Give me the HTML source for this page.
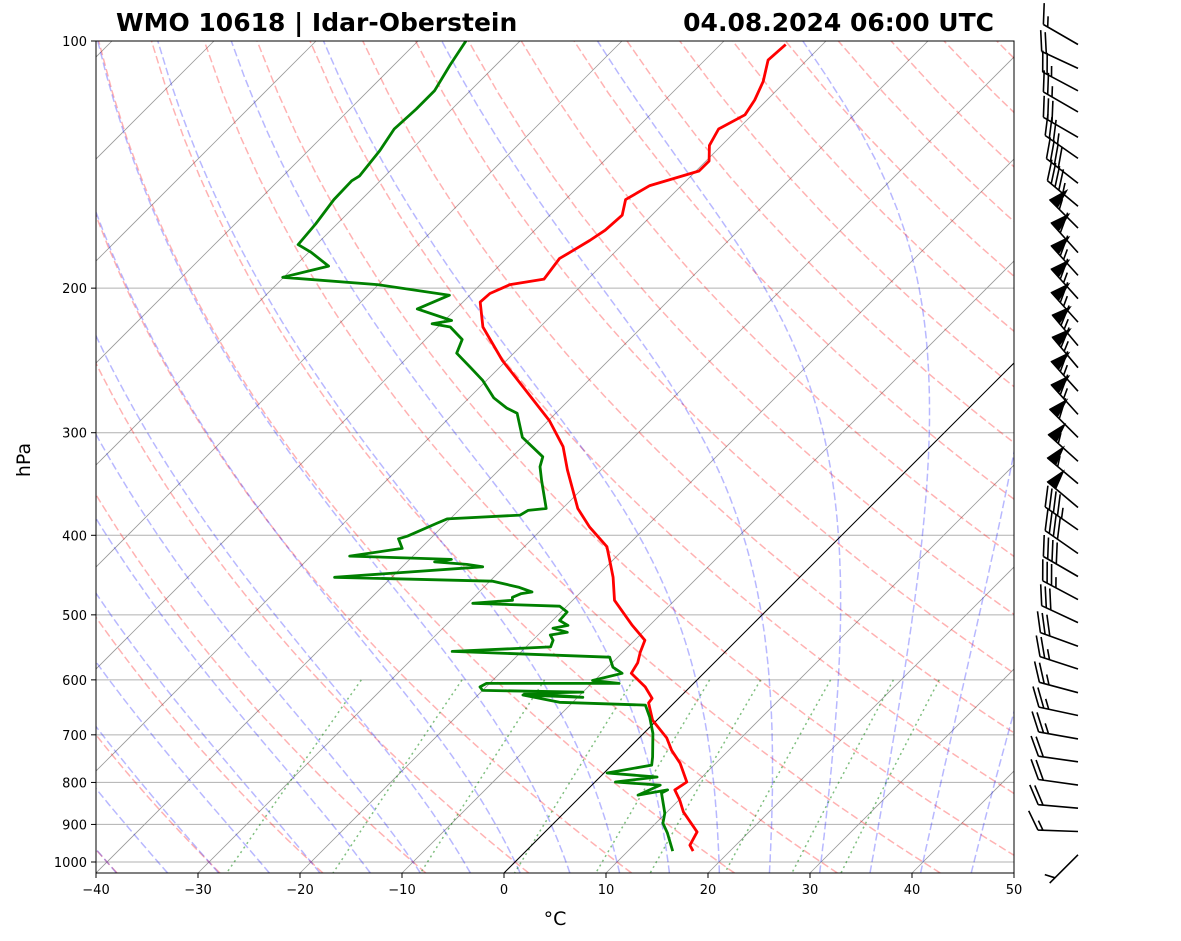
<!DOCTYPE html>
<html><head><meta charset="utf-8">
<style>
html,body{margin:0;padding:0;background:#fff;}
svg{display:block;font-family:"DejaVu Sans","Liberation Sans",sans-serif;}
</style></head>
<body>
<svg id="chart" width="1181" height="941" viewBox="0 0 1181 941" xmlns="http://www.w3.org/2000/svg">
<defs><clipPath id="plotclip"><rect x="96" y="41" width="918" height="832"/></clipPath></defs>
<rect x="0" y="0" width="1181" height="941" fill="#fff"/>
<g id="bg" clip-path="url(#plotclip)"></g>
<g id="profiles" clip-path="url(#plotclip)"></g>
<rect x="96" y="41" width="918" height="832" fill="none" stroke="#000" stroke-width="1"/>
<g id="axes"></g>
<g id="barbs"></g>
<text x="116" y="31" font-size="25" font-weight="bold">WMO 10618 | Idar-Oberstein</text>
<text x="994" y="31" font-size="25" font-weight="bold" text-anchor="end">04.08.2024 06:00 UTC</text>
<text x="555" y="925" font-size="19" text-anchor="middle">°C</text>
<text x="30" y="460" font-size="19" text-anchor="middle" transform="rotate(-90 30 460)">hPa</text>
</svg>
<script>
const tempP=[970,954,919,869,841,817,799,758,731,706,672,640,632,612,589,572,555,537,515,480,450,429,413,391,371,333,312,290,245,223,208,203,198,195,184,181,175,170,163,156,150,144,140,134,128,123,118,112,105.5,101];
const tempT=[16.4,15.5,14.9,11.6,10.1,8.6,9.0,6.5,4.4,2.7,-0.4,-2.5,-2.6,-4.4,-7.1,-7.5,-8.3,-9.0,-11.7,-15.9,-18.3,-20.3,-21.9,-25.5,-28.5,-33.3,-36.0,-39.9,-50.4,-55.6,-58.3,-58.2,-57.1,-54.3,-54.8,-54.4,-53.6,-53.1,-52.9,-54.1,-53.1,-49.7,-49.7,-51.2,-51.9,-50.7,-51.2,-52.2,-53.8,-53.6];
const dewP=[970,922,897,872,824,817,829,806,799,788,779,762,745,697,666,644,639,626,630,623,621,618,612,606,606,601,589,579,563,554,547,537,529,525,519,515,508,496,488,484,480,476,471,469,463,455,450,437,434,431,428,424,415,404,401,387,382,378,373,371,343,330,321,304,284,280,272,259,250,240,231,223,221,219,212,204,198,194,188,181,177,167,156,148,146,136,128,121,115,107,100];
const dewT=[14.4,12.1,10.7,9.9,7.6,7.9,5.5,6.7,2.0,5.6,0.3,3.9,3.2,0.9,-1.0,-2.6,-11.3,-15.6,-9.5,-15.6,-10.0,-20.0,-20.6,-20.3,-7.3,-10.2,-8.0,-9.5,-10.8,-26.8,-17.6,-18.0,-18.8,-17.4,-19.2,-18.0,-19.3,-19.4,-20.7,-29.5,-25.9,-26.2,-25.7,-24.8,-26.5,-29.7,-45.6,-32.1,-33.9,-37.3,-35.9,-46.2,-41.8,-43.1,-42.5,-40.9,-40.3,-33.5,-33.2,-31.6,-34.8,-36.3,-37.0,-40.9,-43.8,-45.3,-47.6,-50.4,-52.8,-55.6,-56.4,-58.8,-60.9,-59.3,-63.8,-62.0,-70.1,-80.1,-76.7,-79.7,-81.8,-82.1,-82.7,-82.8,-82.5,-83.0,-83.7,-83.5,-83.5,-84.5,-85.3];
const barbP=[101,108,115,122,131,139,149,159,169,181,193,206,220,235,250,267,285,304,325,346,370,394,421,449,479,511,546,582,622,663,708,755,806,860,918,980];
const barbSpd=[15,20,25,25,30,35,40,45,55,60,65,65,65,65,65,65,65,60,55,55,50,45,40,40,35,30,30,25,25,25,25,20,20,20,15,5];
const barbDir=[300,295,298,300,300,305,308,310,315,318,318,318,318,320,320,318,318,315,312,310,310,305,305,300,298,295,290,288,285,282,280,278,278,275,272,225];
const xTicks=[-40,-30,-20,-10,0,10,20,30,40,50];
const pTicks=[100,200,300,400,500,600,700,800,900,1000];
const dryT0=[];for(let t=-50;t<=200;t+=10)dryT0.push(t);
const moistT0=[];for(let t=-50;t<100;t+=5)moistT0.push(t);
const mixW=[0.0004,0.001,0.002,0.004,0.007,0.01,0.016,0.024,0.032];

const NS="http://www.w3.org/2000/svg";
const X0=96,X1=1014,Y0=41,Y1=873;
const PBOT=100*Math.pow(10,(Y1-Y0)/821);
function yp(p){return Y0+821*Math.log10(p/100);}
function xp(T,p){return X0+(T+40)*(918/90)+(Y1-yp(p));}
function mk(tag,attrs,parent){const e=document.createElementNS(NS,tag);for(const k in attrs)e.setAttribute(k,attrs[k]);parent.appendChild(e);return e;}
function pathFrom(ps,ts){let d='';for(let i=0;i<ps.length;i++){d+=(i?'L':'M')+xp(ts[i],ps[i]).toFixed(1)+','+yp(ps[i]).toFixed(1);}return d;}
const bg=document.getElementById('bg'),pr=document.getElementById('profiles'),ax=document.getElementById('axes'),bb=document.getElementById('barbs');

for(const p of pTicks){const l=mk('line',{x1:X0,x2:X1,y1:yp(p),y2:yp(p),stroke:'#b0b0b0','stroke-width':1},bg);

}
for(let t=-140;t<=60;t+=10){const l=mk('line',{x1:xp(t,PBOT),y1:Y1,x2:xp(t,100),y2:Y0,stroke:'#999','stroke-width':0.8},bg);

}
const pl=[];for(let i=0;i<=60;i++)pl.push(PBOT+(100-PBOT)*i/60);
for(const t0 of dryT0){const ts=pl.map(p=>(t0+273.15)*Math.pow(p/1000,0.2857)-273.15);
const e=mk('path',{d:pathFrom(pl,ts),fill:'none',stroke:'#ff0000','stroke-opacity':0.3,'stroke-width':1.5,'stroke-dasharray':'7.7,3.3'},bg);

}
function es(Tc){return 6.112*Math.exp(17.67*Tc/(Tc+243.5));}
function dTdp(p,T){const e=es(T-273.15);const rs=0.622*e/(p-e);return (1/p)*(287.04*T+2.501e6*rs)/(1005.7+(2.501e6*2.501e6*rs*0.622/(287.04*T*T)));}
function integ(T,p0,p1,n){const h=(p1-p0)/n;let p=p0;const out=[[p,T]];for(let i=0;i<n;i++){const k1=dTdp(p,T),k2=dTdp(p+h/2,T+h/2*k1),k3=dTdp(p+h/2,T+h/2*k2),k4=dTdp(p+h,T+h*k3);T+=h/6*(k1+2*k2+2*k3+k4);p+=h;out.push([p,T]);}return out;}
for(const t0 of moistT0){const up=integ(t0+273.15,1000,100,90);const dn=integ(t0+273.15,1000,PBOT,4);
const pts=dn.reverse().concat(up.slice(1));
const e=mk('path',{d:pathFrom(pts.map(a=>a[0]),pts.map(a=>a[1]-273.15)),fill:'none',stroke:'#0000ff','stroke-opacity':0.28,'stroke-width':1.5,'stroke-dasharray':'7.7,3.3'},bg);

}
const pm=[];for(let i=0;i<=20;i++)pm.push(600+(PBOT-600)*i/20);
for(const w of mixW){const ts=pm.map(p=>{const e=p*w/(0.622+w);const l=Math.log(e/6.112);return 243.5*l/(17.67-l);});
const e=mk('path',{d:pathFrom(pm,ts),fill:'none',stroke:'#008000','stroke-opacity':0.5,'stroke-width':1.5,'stroke-dasharray':'2,3.5'},bg);

}
const z=mk('line',{x1:xp(0,PBOT),y1:Y1,x2:xp(0,100),y2:Y0,stroke:'#000','stroke-width':1},bg);


const tl=mk('path',{d:pathFrom(tempP,tempT),fill:'none',stroke:'#ff0000','stroke-width':2.8,'stroke-linejoin':'round'},pr);


const dl=mk('path',{d:pathFrom(dewP,dewT),fill:'none',stroke:'#008000','stroke-width':2.8,'stroke-linejoin':'round'},pr);


for(const t of xTicks){const x=X0+(t+40)*(918/90);
const tk=mk('line',{x1:x,x2:x,y1:Y1,y2:Y1+5,stroke:'#000','stroke-width':1},ax);


const tx=mk('text',{x:x,y:Y1+21,'font-size':13,'text-anchor':'middle'},ax);tx.textContent=(t<0?'\u2212'+(-t):String(t));

}
for(const p of pTicks){const y=yp(p);
const tk=mk('line',{x1:X0-5,x2:X0,y1:y,y2:y,stroke:'#000','stroke-width':1},ax);


const tx=mk('text',{x:X0-9,y:y+5,'font-size':13,'text-anchor':'end'},ax);tx.textContent=String(p);

}
const L=40,H=19,W=11,TILT=10,SP=5,BX=1078;
for(let i=0;i<barbP.length;i++){
 const by=yp(barbP[i]);const r=barbDir[i]*Math.PI/180;
 const s=[Math.sin(r),-Math.cos(r)],n=[Math.cos(r),Math.sin(r)];
 const tip=[BX+s[0]*L,by+s[1]*L];
 let spd=Math.round(barbSpd[i]/5)*5;const nf=Math.floor(spd/50);spd-=nf*50;const nb=Math.floor(spd/10);const half=(spd-nb*10)>=5;
 let d='M'+BX+','+by.toFixed(1)+'L'+tip[0].toFixed(1)+','+tip[1].toFixed(1);
 let fl='';let off=0;
 const pt=(o,hn,ho)=>[(tip[0]-s[0]*o+n[0]*hn+s[0]*ho).toFixed(1),(tip[1]-s[1]*o+n[1]*hn+s[1]*ho).toFixed(1)].join(',');
 for(let k=0;k<nf;k++){fl+='M'+pt(off,0,0)+'L'+pt(off,H,-W/2)+'L'+pt(off+W,0,0)+'Z';off+=W+SP/2;}
 for(let k=0;k<nb;k++){d+='M'+pt(off,0,0)+'L'+pt(off,H,TILT);off+=SP;}
 if(half){if(nf===0&&nb===0)off+=1.5*SP;d+='M'+pt(off,0,0)+'L'+pt(off,H/2,TILT/2);}
 const g=mk('g',{},bb);
 
 
 mk('path',{d:d,fill:'none',stroke:'#000','stroke-width':1.6},g);
 if(fl)mk('path',{d:fl,fill:'#000',stroke:'#000','stroke-width':1},g);
}
</script>
</body></html>
